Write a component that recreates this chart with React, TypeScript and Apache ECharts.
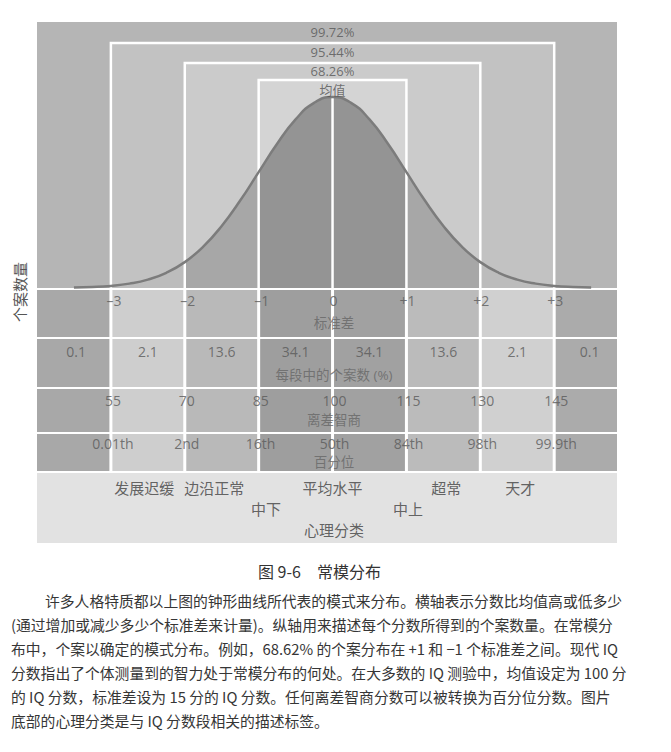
import React, { useEffect, useRef } from 'react';
import * as echarts from 'echarts';

// ---------------- data ----------------
const curveSigma = [-3.5, -3.25, -3, -2.75, -2.5, -2.25, -2, -1.75, -1.5, -1.25, -1, -0.75, -0.5, -0.25, 0, 0.25, 0.5, 0.75, 1, 1.25, 1.5, 1.75, 2, 2.25, 2.5, 2.75, 3, 3.25, 3.5];
const curveDensity = [0.0009, 0.002, 0.0044, 0.0091, 0.0175, 0.0317, 0.054, 0.0863, 0.1295, 0.1826, 0.242, 0.3011, 0.3521, 0.3867, 0.3989, 0.3867, 0.3521, 0.3011, 0.242, 0.1826, 0.1295, 0.0863, 0.054, 0.0317, 0.0175, 0.0091, 0.0044, 0.002, 0.0009];
const coverageLabels = ['99.72%', '95.44%', '68.26%'];
const coverageSigma = [3, 2, 1];
const meanLabel = '均值';
const sigmaTicks = [-3, -2, -1, 0, 1, 2, 3];
const sdLabels = ['–3', '–2', '–1', '0', '+1', '+2', '+3'];
const bandEdges = [-4, -3, -2, -1, 0, 1, 2, 3, 3.85];
const bandPercents = ['0.1', '2.1', '13.6', '34.1', '34.1', '13.6', '2.1', '0.1'];
const bandPercentAt = [-3.47, -2.5, -1.5, -0.5, 0.5, 1.5, 2.5, 3.48];
const iqScores = ['55', '70', '85', '100', '115', '130', '145'];
const percentiles = ['0.01th', '2nd', '16th', '50th', '84th', '98th', '99.9th'];
const classUpper = ['发展迟缓', '边沿正常', '平均水平', '超常', '天才'];
const classUpperAt = [-2.55, -1.6, 0, 1.54, 2.54];
const classLower = ['中下', '中上'];
const classLowerAt = [-0.9, 1.02];
const rowTitles = ['标准差', '每段中的个案数 (%)', '离差智商', '百分位'];
const bottomTitle = '心理分类';
const yAxisTitle = '个案数量';
const caption = '图 9-6　常模分布';
const paragraph = [
  '许多人格特质都以上图的钟形曲线所代表的模式来分布。横轴表示分数比均值高或低多少',
  '(通过增加或减少多少个标准差来计量)。纵轴用来描述每个分数所得到的个案数量。在常模分',
  '布中，个案以确定的模式分布。例如，68.62% 的个案分布在 +1 和 −1 个标准差之间。现代 IQ',
  '分数指出了个体测量到的智力处于常模分布的何处。在大多数的 IQ 测验中，均值设定为 100 分',
  '的 IQ 分数，标准差设为 15 分的 IQ 分数。任何离差智商分数可以被转换为百分位分数。图片',
  '底部的心理分类是与 IQ 分数段相关的描述标签。',
];

// ---------------- layout / style ----------------
const X_MIN = -4;
const X_MAX = 3.85;
const Y_MAX = 0.5555;
const LEFT = 37;
const WIDTH = 580;
const GAP = 3;
const boxTop = [0.5117, 0.4699, 0.4344];
const boxLabelY = [0.5347, 0.4929, 0.4535];
const meanLabelY = 0.4135;
const boxFills = ['#c2c2c2', '#cbcbcb', '#d4d4d4'];
const cellShades = ['#a8a8a8', '#cecece', '#b9b9b9', '#9e9e9e', '#a1a1a1', '#bbbbbb', '#d0d0d0', '#ababab'];
const rowLayout = [
  { top: 290, height: 47, valueY: 0.766, titleY: 0.3 },
  { top: 339, height: 48, valueY: 0.74, titleY: 0.26 },
  { top: 389, height: 43, valueY: 0.74, titleY: 0.27 },
  { top: 434, height: 37, valueY: 0.75, titleY: 0.25 },
];
const bottomLayout = { top: 473, height: 70 };
const SANS = "'Open Sans', 'Noto Sans CJK SC', sans-serif";
const CJK = "'Noto Sans CJK SC', sans-serif";

const seg = (lo: number, hi: number) =>
  curveSigma
    .map((x, i) => [x, curveDensity[i]])
    .filter((p) => p[0] >= lo - 1e-9 && p[0] <= hi + 1e-9);

const textScatter = (
  gridIdx: number,
  items: { name: string; value: number[]; offset?: number[] }[],
  fontSize: number,
  color: string,
  fontFamily: string
) => ({
  type: 'scatter',
  xAxisIndex: gridIdx,
  yAxisIndex: gridIdx,
  symbolSize: 1,
  silent: true,
  z: 6,
  itemStyle: { color: 'rgba(0,0,0,0)' },
  data: items.map((it) => ({
    name: it.name,
    value: it.value,
    label: it.offset ? { offset: it.offset } : undefined,
  })),
  label: {
    show: true,
    position: 'inside',
    formatter: '{b}',
    fontSize,
    lineHeight: fontSize,
    color,
    fontFamily,
  },
});

export default function App() {
  const ref = useRef<HTMLDivElement>(null);

  useEffect(() => {
    if (!ref.current) return;
    const chart = echarts.init(ref.current, undefined, { renderer: 'svg' });

    const grids: any[] = [
      { left: LEFT, top: 22, width: WIDTH, height: 266, show: true, backgroundColor: '#b5b5b5', borderWidth: 0 },
      ...rowLayout.map((r) => ({ left: LEFT, top: r.top, width: WIDTH, height: r.height })),
      { left: LEFT, top: bottomLayout.top, width: WIDTH, height: bottomLayout.height, show: true, backgroundColor: '#e2e2e2', borderWidth: 0 },
    ];
    const xAxes = grids.map((_, i) => ({ type: 'value', gridIndex: i, min: X_MIN, max: X_MAX, show: false }));
    const yAxes = grids.map((_, i) => ({ type: 'value', gridIndex: i, min: 0, max: i === 0 ? Y_MAX : 1, show: false }));

    const peak = Math.max(...curveDensity);
    const series: any[] = [];

    // coverage boxes
    series.push({
      type: 'custom',
      xAxisIndex: 0,
      yAxisIndex: 0,
      z: 1,
      silent: true,
      data: coverageSigma.map((s, i) => [s, boxTop[i], i]),
      renderItem: (_p: any, api: any) => {
        const hw = api.value(0);
        const top = api.value(1);
        const k = api.value(2);
        const a = api.coord([-hw, top]);
        const b = api.coord([hw, 0]);
        return { type: 'rect', shape: { x: a[0], y: a[1], width: b[0] - a[0], height: b[1] - a[1] }, style: { fill: boxFills[k] } };
      },
    });

    // curve fills
    const fills: [number, number, string][] = [
      [-3, -2, '#bcbcbc'],
      [2, 3, '#bcbcbc'],
      [-2, -1, '#a7a7a7'],
      [1, 2, '#a7a7a7'],
      [-1, 1, '#949494'],
    ];
    fills.forEach(([lo, hi, c]) =>
      series.push({
        type: 'line',
        xAxisIndex: 0,
        yAxisIndex: 0,
        z: 2,
        silent: true,
        smooth: true,
        symbol: 'none',
        data: seg(lo, hi),
        lineStyle: { width: 0, opacity: 0 },
        areaStyle: { color: c, opacity: 1 },
      })
    );

    // white guide lines
    series.push({
      type: 'custom',
      xAxisIndex: 0,
      yAxisIndex: 0,
      z: 3,
      silent: true,
      data: coverageSigma.map((s, i) => [s, boxTop[i]]),
      renderItem: (_p: any, api: any) => {
        const hw = api.value(0);
        const top = api.value(1);
        return {
          type: 'polyline',
          shape: { points: [api.coord([-hw, 0]), api.coord([-hw, top]), api.coord([hw, top]), api.coord([hw, 0])] },
          style: { stroke: '#ffffff', lineWidth: 2.5, fill: 'none' },
        };
      },
    });
    series.push({
      type: 'custom',
      xAxisIndex: 0,
      yAxisIndex: 0,
      z: 3,
      silent: true,
      data: [[0, peak]],
      renderItem: (_p: any, api: any) => {
        const a = api.coord([api.value(0), api.value(1)]);
        const b = api.coord([api.value(0), 0]);
        return { type: 'line', shape: { x1: a[0], y1: a[1], x2: b[0], y2: b[1] }, style: { stroke: '#ffffff', lineWidth: 2.5 } };
      },
    });

    // curve stroke
    series.push({
      type: 'line',
      xAxisIndex: 0,
      yAxisIndex: 0,
      z: 4,
      silent: true,
      smooth: true,
      symbol: 'none',
      data: curveSigma.map((x, i) => [x, curveDensity[i]]),
      lineStyle: { color: '#7c7c7c', width: 2.5 },
    });

    // coverage labels
    series.push(
      textScatter(
        0,
        coverageLabels.map((t, i) => ({ name: t, value: [0, boxLabelY[i]] })),
        13,
        '#555555',
        SANS
      )
    );
    series.push(textScatter(0, [{ name: meanLabel, value: [0, meanLabelY] }], 13, '#555555', CJK));

    // table rows
    rowLayout.forEach((r, ri) => {
      const g = ri + 1;
      series.push({
        type: 'custom',
        xAxisIndex: g,
        yAxisIndex: g,
        z: 1,
        silent: true,
        data: bandEdges.slice(0, -1).map((e, i) => [e, bandEdges[i + 1], i]),
        renderItem: (_p: any, api: any) => {
          const x0 = api.value(0);
          const x1 = api.value(1);
          const k = api.value(2);
          const a = api.coord([x0, 1]);
          const b = api.coord([x1, 0]);
          const l = x0 > X_MIN ? a[0] + GAP / 2 : a[0];
          const rr = x1 < X_MAX ? b[0] - GAP / 2 : b[0];
          return { type: 'rect', shape: { x: l, y: a[1], width: rr - l, height: b[1] - a[1] }, style: { fill: cellShades[k] } };
        },
      });
    });

    series.push(
      textScatter(
        1,
        sdLabels.map((t, i) => ({ name: t, value: [sigmaTicks[i], rowLayout[0].valueY], offset: sigmaTicks[i] < 0 ? [3, 0] : [1, 0] })),
        14,
        '#595959',
        SANS
      )
    );
    series.push(
      textScatter(
        2,
        bandPercents.map((t, i) => ({ name: t, value: [bandPercentAt[i], rowLayout[1].valueY] })),
        14,
        '#595959',
        SANS
      )
    );
    series.push(
      textScatter(
        3,
        iqScores.map((t, i) => ({ name: t, value: [sigmaTicks[i], rowLayout[2].valueY], offset: [2, 0] })),
        14,
        '#595959',
        SANS
      )
    );
    series.push(
      textScatter(
        4,
        percentiles.map((t, i) => ({ name: t, value: [sigmaTicks[i], rowLayout[3].valueY], offset: [2, 0] })),
        14,
        '#595959',
        SANS
      )
    );
    rowLayout.forEach((r, ri) => {
      series.push(textScatter(ri + 1, [{ name: rowTitles[ri], value: [0.02, r.titleY] }], 13.5, '#666666', SANS));
    });

    // psychological classification
    series.push(
      textScatter(
        5,
        [
          ...classUpper.map((t, i) => ({ name: t, value: [classUpperAt[i], 0.786] })),
          ...classLower.map((t, i) => ({ name: t, value: [classLowerAt[i], 0.486] })),
          { name: bottomTitle, value: [0.02, 0.186] },
        ],
        15,
        '#404040',
        CJK
      )
    );

    const paraY = [600, 624, 648, 672, 696, 720];
    const graphic: any[] = [
      {
        type: 'text',
        x: 19,
        y: 292,
        rotation: Math.PI / 2,
        style: { text: yAxisTitle, fontSize: 15, fill: '#555555', fontFamily: CJK, align: 'center', verticalAlign: 'middle' },
      },
      {
        type: 'text',
        x: 258,
        y: 571,
        style: { text: caption, fontSize: 16, fill: '#333333', fontFamily: CJK, align: 'left', verticalAlign: 'middle' },
      },
      ...paragraph.map((t, i) => ({
        type: 'text',
        x: i === 0 ? 45 : 11,
        y: paraY[i],
        style: { text: t, fontSize: 14.8, fill: '#363636', fontFamily: CJK, align: 'left', verticalAlign: 'middle' },
      })),
    ];

    chart.setOption({
      animation: false,
      backgroundColor: '#ffffff',
      grid: grids,
      xAxis: xAxes,
      yAxis: yAxes,
      series,
      graphic,
    });

    return () => chart.dispose();
  }, []);

  return <div ref={ref} style={{ position: 'absolute', left: 0, top: 0, width: 671, height: 752 }} />;
}
